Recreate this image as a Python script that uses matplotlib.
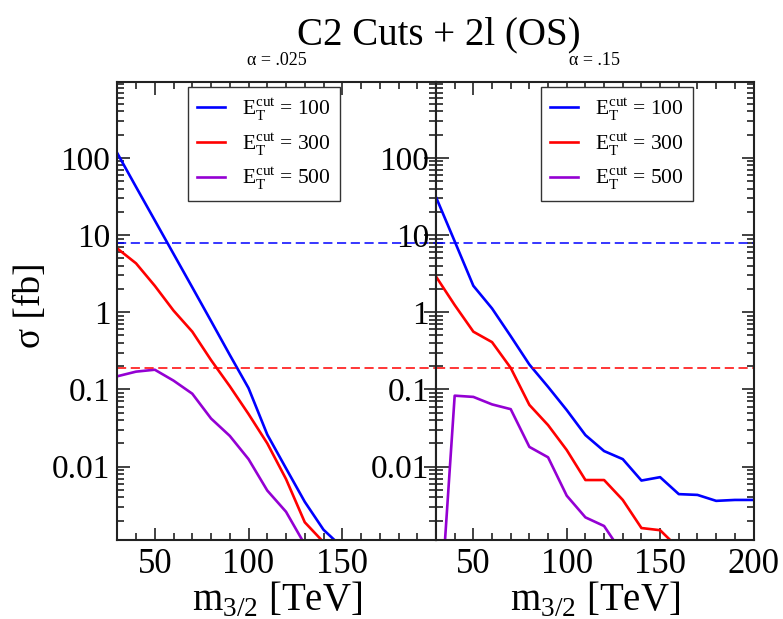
import matplotlib
matplotlib.use("Agg")
import matplotlib.pyplot as plt
from matplotlib.ticker import FixedLocator, MultipleLocator, LogLocator, FuncFormatter, NullFormatter

plt.rcParams['font.family'] = ['Liberation Serif', 'DejaVu Serif']
plt.rcParams['mathtext.fontset'] = 'custom'
plt.rcParams['mathtext.rm'] = 'Liberation Serif'

# alpha = .025 (left panel)
mass_left = [30, 40, 50, 60, 70, 80, 90, 100, 110, 120, 130, 140, 150]
et100_left = [115, 42, 15.5, 5.7, 2.1, 0.77, 0.28, 0.104, 0.026, 0.0095, 0.0035, 0.00152, 0.0009]
et300_left = [6.7, 4.3, 2.2, 1.05, 0.56, 0.24, 0.11, 0.048, 0.02, 0.0069, 0.0019, 0.00105, 0.0004]
et500_left = [0.148, 0.17, 0.18, 0.13, 0.088, 0.042, 0.025, 0.0125, 0.0049, 0.0026, 0.00098]

# alpha = .15 (right panel)
mass_right = [30, 40, 50, 60, 70, 80, 90, 100, 110, 120, 130, 140, 150, 160, 170, 180, 190, 200]
et100_right = [31, 8.3, 2.2, 1.12, 0.49, 0.21, 0.108, 0.054, 0.0256, 0.0159, 0.0125, 0.0066,
               0.0073, 0.0044, 0.0043, 0.0036, 0.0037, 0.0037]
et300_right = [2.9, 1.24, 0.56, 0.41, 0.19, 0.063, 0.0345, 0.0164, 0.0067, 0.0067, 0.0037,
               0.0016, 0.0015, 0.00087]
et500_right = [2e-5, 0.083, 0.08, 0.064, 0.0555, 0.018, 0.0132, 0.0042, 0.0022, 0.0017, 0.00074]

# horizontal reference levels
limit_blue = 8.0
limit_red = 0.19

cuts = [100, 300, 500]
colors = ['#0000FF', '#FF0000', '#9400D3']

fig = plt.figure(figsize=(7.83, 6.19), dpi=100)
W, H = 783, 619
bottom = 1 - 540 / H
height = 458.3 / H
ax1 = fig.add_axes([117.3 / W, bottom, 318.7 / W, height])
ax2 = fig.add_axes([436 / W, bottom, 317.5 / W, height])

panels = [
    (ax1, mass_left, [et100_left, et300_left, et500_left], [50, 100, 150], 'α = .025', 0.223),
    (ax2, mass_right, [et100_right, et300_right, et500_right], [50, 100, 150, 200], 'α = .15', 0.332),
]

for ax, mass, series, xmaj, sub, legx in panels:
    for ys, c, cut in zip(series, colors, cuts):
        ax.plot(mass[:len(ys)], ys, color=c, lw=1.9,
                label=r'E$_{\mathregular{T}}^{\mathregular{cut}}$ = %d' % cut)
    ax.axhline(limit_blue, color=colors[0], lw=1.1, dashes=(6, 3))
    ax.axhline(limit_red, color=colors[1], lw=1.1, dashes=(6, 3))
    ax.set_yscale('log')
    ax.set_xlim(30, 200)
    ax.set_ylim(1.12e-3, 970)
    ax.xaxis.set_major_locator(FixedLocator(xmaj))
    ax.xaxis.set_minor_locator(MultipleLocator(10))
    ax.yaxis.set_major_locator(LogLocator(base=10, numticks=15))
    ax.yaxis.set_minor_locator(LogLocator(base=10, subs=range(2, 10), numticks=15))
    ax.yaxis.set_major_formatter(FuncFormatter(lambda v, p: '%g' % v))
    ax.yaxis.set_minor_formatter(NullFormatter())
    ax.tick_params(which='both', direction='in', top=True, right=True, width=1.2, color='#222222')
    ax.tick_params(which='major', length=9, pad=5)
    ax.tick_params(which='minor', length=5)
    ax.tick_params(axis='x', which='major', labelsize=25, pad=6)
    ax.tick_params(axis='y', which='major', labelsize=24)
    for sp in ax.spines.values():
        sp.set_linewidth(1.5)
        sp.set_color('#222222')
    ax.set_xlabel(r'm$_{\mathregular{3/2}}$ [TeV]', fontsize=28, va='baseline')
    ax.xaxis.set_label_coords(0.5, -(611 - 540) / 458.3)
    ax.text(0.5, (540 - 61) / 458.3, sub, transform=ax.transAxes, ha='center', va='center', fontsize=13)
    leg = ax.legend(loc='upper left', bbox_to_anchor=(legx, 0.988), borderaxespad=0,
                    fontsize=15.5, frameon=True, fancybox=False, framealpha=1,
                    handlelength=1.3, handletextpad=0.8, labelspacing=0.36, borderpad=0.4)
    leg.get_frame().set_edgecolor('#333333')
    leg.get_frame().set_linewidth(1.0)

ax1.set_ylabel('σ [fb]', fontsize=27, va='center')
ax1.yaxis.set_label_coords((31 - 117.3) / 318.7, (540 - 305) / 458.3)

fig.text(439 / W, 1 - 35 / H, 'C2 Cuts + 2l (OS)', ha='center', va='center', fontsize=28)

fig.savefig('out.png', dpi=100)
